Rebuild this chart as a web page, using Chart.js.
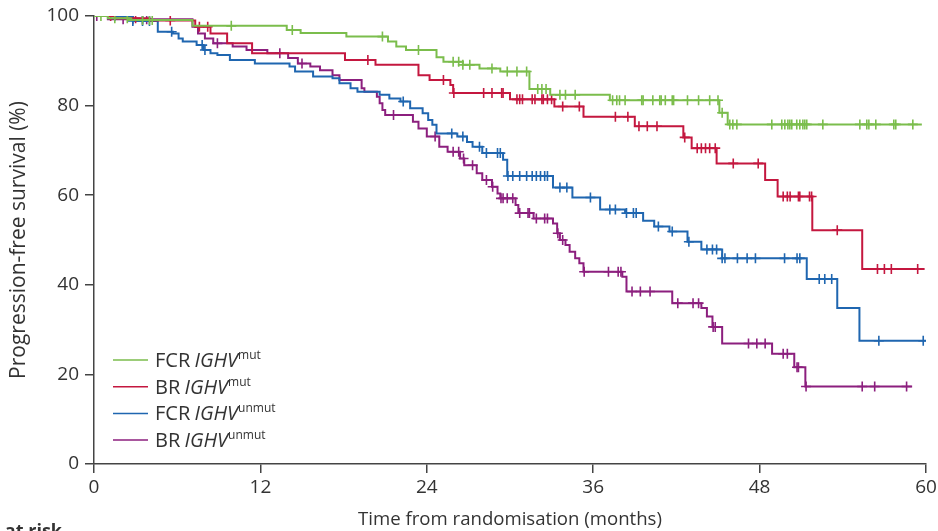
<!DOCTYPE html>
<html>
<head>
<meta charset="utf-8">
<script src="https://cdn.jsdelivr.net/npm/chart.js@4/dist/chart.umd.min.js"></script>
<style>
  body { margin: 0; background: #fff; }
  canvas { display: block; }
</style>
</head>
<body>
<canvas id="pfsChart" width="938" height="531"></canvas>
<script>
/* ================================
   DATA
================================ */
const xTicks = [0, 12, 24, 36, 48, 60];
const yTicks = [0, 20, 40, 60, 80, 100];

const seriesNames = ['FCR', 'BR', 'FCR', 'BR'];
const seriesSup = ['mut', 'mut', 'unmut', 'unmut'];

// FCR IGHVmut
const fcrMutTime = [0, 1.0, 2.5, 7.1, 13.9, 14.9, 18.2, 21.2, 21.8, 22.5, 24.7, 25.2, 26.6, 27.8, 29.3, 31.4, 32.9, 37.2, 45.1, 45.7, 59.7];
const fcrMutPfs = [100, 99.5, 99.1, 97.8, 96.9, 96.2, 95.4, 94.3, 93.2, 92.4, 90.8, 89.8, 89.1, 88.3, 87.6, 83.7, 82.4, 81.2, 78.4, 75.8, 75.8];
const fcrMutCensor = [0.5, 1.5, 2.4, 3.5, 4.0, 4.2, 9.9, 14.3, 20.8, 23.4, 25.9, 26.3, 26.6, 27.1, 28.7, 29.8, 30.5, 31.2, 32.0, 32.3, 32.6, 33.6, 34.0, 34.7,
  37.4, 37.7, 37.9, 38.3, 39.5, 39.6, 40.3, 40.8, 40.9, 41.2, 41.7, 41.8, 42.8, 43.6, 44.4, 45.0, 45.3,
  45.85, 46.07, 46.36, 48.88, 49.6, 49.82, 50.04, 50.18, 50.32, 50.68, 50.9, 51.12, 51.26, 51.4, 52.56, 55.23, 55.73, 55.88, 56.38, 57.68, 57.82, 59.05];

// BR IGHVmut
const brMutTime = [0, 1.5, 4.0, 7.3, 8.4, 9.6, 11.4, 18.1, 20.3, 23.4, 24.2, 25.7, 25.9, 30.0, 33.2, 35.3, 39.0, 42.5, 43.1, 44.9, 48.4, 49.3, 51.8, 55.4, 59.9];
const brMutPfs = [100, 99.5, 99.0, 97.6, 96.1, 93.9, 91.7, 90.2, 89.1, 86.8, 85.7, 84.6, 82.8, 81.4, 79.8, 77.5, 75.4, 72.9, 70.5, 67.1, 63.4, 59.7, 52.2, 43.5, 43.5];
const brMutCensor = [1.2, 3.0, 5.5, 7.6, 8.2, 19.75, 25.2, 25.95, 28.1, 28.7, 29.4, 29.5, 30.5, 30.7, 30.9, 31.6, 31.8, 32.3, 32.4, 32.7, 33.0, 33.8, 35.0,
  37.6, 38.5, 39.3, 39.9, 40.6, 42.6, 43.5, 43.8, 44.1, 44.4, 44.8, 46.1, 47.9, 49.7, 50.0, 50.2, 50.8, 50.9, 51.6, 51.75, 53.6, 56.5, 57.0, 57.5, 59.4];

// FCR IGHVunmut
const fcrUnmutTime = [0, 2.8, 4.6, 5.7, 6.1, 6.4, 7.4, 7.9, 8.4, 8.9, 9.8, 11.6, 14.1, 14.5, 15.8, 17.2, 17.7, 18.5, 19.0, 20.6, 21.3, 22.1, 22.8, 23.7, 24.1, 24.4, 24.7,
  26.2, 26.9, 27.3, 28.0, 29.5, 29.8, 33.1, 34.5, 36.5, 38.3, 39.6, 40.4, 41.5, 42.8, 43.8, 45.3, 51.4, 53.6, 55.2, 60];
const fcrUnmutPfs = [100, 98.9, 96.5, 96.1, 95.0, 94.3, 93.5, 92.4, 91.7, 91.3, 90.2, 89.4, 88.7, 87.6, 86.5, 86.1, 85.0, 83.9, 83.1, 82.4, 81.6, 80.9, 79.4, 78.3, 76.8, 75.7, 73.8,
  73.1, 71.9, 70.8, 69.4, 67.9, 64.3, 61.7, 59.5, 56.8, 56.0, 54.3, 53.0, 51.9, 49.6, 47.9, 45.9, 41.3, 34.8, 27.5, 27.5];
const fcrUnmutCensor = [1.5, 2.8, 3.5, 4.0, 5.6, 7.8, 8.0, 22.3, 25.8, 26.6, 27.8, 28.3, 29.1, 29.3, 29.85, 30.2, 30.7, 31.2, 31.6, 31.9, 32.2, 32.5, 32.7, 33.6, 34.1,
  35.8, 37.2, 37.6, 38.4, 38.9, 39.1, 40.7, 41.7, 42.9, 44.2, 44.6, 44.9, 45.3, 45.5, 46.4, 47.1, 47.7, 49.8, 50.7, 50.9, 52.3, 52.7, 53.2, 56.6, 59.8];

// BR IGHVunmut
const brUnmutTime = [0, 1.0, 7.1, 7.5, 8.0, 8.6, 10.0, 11.0, 12.5, 14.0, 14.7, 15.6, 16.3, 17.2, 17.7, 19.3, 19.5, 20.4, 20.6, 20.8, 21.0, 23.0, 23.4, 24.0, 24.9, 25.5,
  26.4, 26.7, 27.6, 28.0, 28.7, 29.1, 29.3, 30.4, 30.6, 31.7, 33.1, 33.4, 33.6, 34.0, 34.3, 34.7, 35.0, 35.3, 38.1, 38.4, 41.7, 43.8, 44.2, 44.6, 45.3, 48.9, 50.5, 51.3, 59.0];
const brUnmutPfs = [100, 99.3, 97.6, 96.1, 95.0, 93.9, 93.2, 92.4, 91.7, 90.6, 89.4, 88.7, 87.9, 86.8, 85.7, 83.9, 83.1, 82.0, 80.5, 79.0, 77.9, 76.4, 74.9, 73.1, 70.8, 69.7,
  68.2, 66.7, 64.9, 63.4, 61.9, 60.4, 59.3, 57.8, 56.0, 54.8, 53.7, 51.5, 50.0, 48.9, 47.4, 45.9, 44.8, 42.9, 41.8, 38.5, 35.9, 34.8, 32.9, 30.6, 26.9, 24.6, 21.6, 17.3, 17.3];
const brUnmutCensor = [0.2, 2.1, 2.8, 3.5, 3.8, 8.9, 13.4, 15.0, 21.6, 24.6, 25.9, 26.3, 26.65, 27.3, 28.3, 28.75, 29.35, 29.5, 29.8, 30.2, 30.7, 31.3, 31.4, 31.9,
  32.5, 32.7, 33.45, 33.8, 35.35, 37.1, 37.8, 38.0, 38.8, 39.4, 40.1, 42.1, 43.2, 43.6, 44.65, 44.8, 47.2, 47.8, 48.4, 49.7, 50.0, 50.7, 50.8, 51.35, 55.4, 56.3, 58.6];

const colors = ['#7bbd4c', '#c4173f', '#1f66b0', '#8c1f7e'];

/* ================================
   HELPERS
================================ */
const FONT = '"Open Sans", "Noto Sans", sans-serif';

function steps(times, values) {
    return times.map((t, i) => ({ x: t, y: values[i] }));
}

// censor marks sit on the KM step at that time
function censorPoints(cTimes, times, values) {
    return cTimes.map(t => {
        let v = values[0];
        for (let i = 0; i < times.length; i++) {
            if (times[i] <= t) v = values[i];
        }
        return { x: t, y: v };
    });
}

const groups = [
    [fcrMutTime, fcrMutPfs, fcrMutCensor],
    [brMutTime, brMutPfs, brMutCensor],
    [fcrUnmutTime, fcrUnmutPfs, fcrUnmutCensor],
    [brUnmutTime, brUnmutPfs, brUnmutCensor]
];

const datasets = [];
groups.forEach(([t, s, c], i) => {
    datasets.push({
        type: 'line',
        label: seriesNames[i] + ' IGHV' + seriesSup[i],
        data: steps(t, s),
        stepped: 'before',
        borderColor: colors[i],
        borderWidth: 2,
        pointRadius: 0,
        fill: false
    });
    datasets.push({
        type: 'scatter',
        label: 'censor' + i,
        data: censorPoints(c, t, s),
        pointStyle: 'cross',
        pointRadius: 5,
        borderColor: colors[i],
        borderWidth: 1.6,
        backgroundColor: colors[i]
    });
});

/* ================================
   LEGEND (inside plot, bottom-left)
================================ */
const kmLegend = {
    id: 'kmLegend',
    afterDraw(chart) {
        const ctx = chart.ctx;
        const { left, bottom } = chart.chartArea;
        ctx.save();
        ctx.textBaseline = 'alphabetic';
        seriesNames.forEach((name, i) => {
            const y = bottom - 104 + i * 26.7;
            ctx.strokeStyle = colors[i];
            ctx.lineWidth = 1.5;
            ctx.beginPath();
            ctx.moveTo(left + 19, y);
            ctx.lineTo(left + 54, y);
            ctx.stroke();

            let x = left + 61;
            ctx.fillStyle = '#333';
            ctx.font = '20px ' + FONT;
            ctx.fillText(name + ' ', x, y + 7);
            x += ctx.measureText(name + ' ').width - 1;
            ctx.font = 'italic 20px ' + FONT;
            ctx.fillText('IGHV', x, y + 7);
            x += ctx.measureText('IGHV').width;
            ctx.font = '12px ' + FONT;
            ctx.fillText(seriesSup[i], x, y - 1);
        });
        // cut-off heading of the table below the plot
        ctx.font = 'bold 18px ' + FONT;
        ctx.textAlign = 'right';
        ctx.fillStyle = '#333';
        ctx.fillText('Number at risk', 62, 537);
        ctx.restore();
    }
};

/* ================================
   CHART
================================ */
new Chart(document.getElementById('pfsChart'), {
    data: { datasets },
    plugins: [kmLegend],
    options: {
        responsive: false,
        animation: false,
        layout: { padding: { top: 16, right: 12, left: 0, bottom: 0 } },
        plugins: {
            legend: { display: false },
            tooltip: { enabled: false }
        },
        scales: {
            x: {
                type: 'linear',
                min: 0,
                max: 60,
                afterBuildTicks: s => { s.ticks = xTicks.map(v => ({ value: v })); },
                afterFit: s => { s.height = 67; s.paddingLeft = 0; s.paddingRight = 0; },
                ticks: { color: '#333', font: { family: FONT, size: 19 }, padding: 3 },
                grid: { drawOnChartArea: false, tickLength: 9, color: '#444', lineWidth: 1.5 },
                border: { color: '#444', width: 1.5 },
                title: {
                    display: true,
                    text: 'Time from randomisation (months)',
                    color: '#333',
                    font: { family: FONT, size: 18.6 },
                    padding: { top: 0, bottom: 0 }
                }
            },
            y: {
                min: 0,
                max: 100,
                afterBuildTicks: s => { s.ticks = yTicks.map(v => ({ value: v })); },
                afterFit: s => { s.width = 94; s.paddingTop = 0; s.paddingBottom = 0; },
                ticks: { color: '#333', font: { family: FONT, size: 19 }, padding: 6 },
                grid: { drawOnChartArea: false, tickLength: 9, color: '#444', lineWidth: 1.5 },
                border: { color: '#444', width: 1.5 },
                title: {
                    display: true,
                    text: 'Progression-free survival (%)',
                    color: '#333',
                    font: { family: FONT, size: 21 },
                    padding: { top: 6, bottom: 0 }
                }
            }
        }
    }
});
</script>
</body>
</html>
